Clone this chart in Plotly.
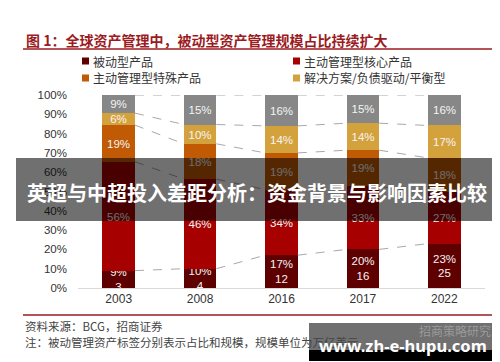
import numpy as np
import plotly.graph_objects as go

years = ["2003", "2008", "2016", "2017", "2022"]
passive = [9, 10, 17, 20, 23]
passive_scale = ["3", "4", "12", "16", "25"]
active_core = [56.4, 46.4, 34, 32.6, 26.6]
active_special = [19, 18.3, 19, 18.8, 17.8]
solutions = [6.2, 10, 14, 14, 16.8]
others = [9.4, 15.3, 16, 14.6, 15.8]

series_names = ["被动型产品", "主动管理型核心产品", "主动管理型特殊产品", "解决方案/负债驱动/平衡型", "其他"]
colors = ["#5e0000", "#a60000", "#c05a04", "#d4a23c", "#878787"]
ytick_vals = list(range(0, 101, 10))
ytick_text = [f"{v}%" for v in ytick_vals]

title_text = "图 1：全球资产管理中，被动型资产管理规模占比持续扩大"
source_text = "资料来源：BCG，招商证券"
note_text = "注：被动管理资产标签分别表示占比和规模，规模单位为万亿美元"
banner_text = "英超与中超投入差距分析：资金背景与影响因素比较"
wm_text = "www.zh-e-hupu.com"
wm_sub = "招商策略研究"

W, H = 500, 362
L, R, T, B = 70, 477, 87, 280


def px_x(p):
    return (p - L) / (R - L)


def px_y(p):
    return (B - p) / (B - T)


CJK = "Noto Sans CJK SC"
LAT = "Liberation Sans, Arial"

fig = go.Figure()
x = np.arange(len(years))
data = [passive, active_core, active_special, solutions, others]
bw = 0.4

# dashed connector lines between cumulative levels
cum = np.cumsum(np.array(data, dtype=float), axis=0)
for lev in cum:
    xs, ys = [], []
    for i in range(len(years) - 1):
        xs += [x[i] + bw / 2, x[i + 1] - bw / 2, None]
        ys += [lev[i], lev[i + 1], None]
    fig.add_trace(go.Scatter(x=xs, y=ys, mode="lines", showlegend=False, hoverinfo="skip",
                             line=dict(color="#a8a8a8", width=1, dash="dash")))

for k, (name, vals, col) in enumerate(zip(series_names, data, colors)):
    if k == 0:
        tt = "%{y:.0f}%<br>%{customdata}"
        cd = passive_scale
    else:
        tt = "%{y:.0f}%"
        cd = None
    fig.add_trace(go.Bar(
        x=x, y=vals, name=name, marker=dict(color=col, line=dict(width=0)), width=bw,
        customdata=cd, texttemplate=tt, textposition="inside", insidetextanchor="middle",
        textangle=0, constraintext="none",
        textfont=dict(family=LAT, size=11.5, color="#f4f4f4"),
        showlegend=False,
    ))

fig.update_layout(
    width=W, height=H, autosize=False,
    margin=dict(l=L, r=W - R, t=T, b=H - B, pad=0, autoexpand=False),
    paper_bgcolor="white", plot_bgcolor="white",
    barmode="stack", bargap=0, showlegend=False,
    font=dict(family=LAT, size=12, color="#333333"),
    xaxis=dict(range=[-0.5, 4.5], tickvals=list(x), ticktext=years, showgrid=False,
               zeroline=False, showline=True, linecolor="#d9d9d9", linewidth=1, ticks="",
               tickfont=dict(family=LAT, size=12, color="#333333"), fixedrange=True),
    yaxis=dict(range=[0, 100], tickvals=ytick_vals, ticktext=ytick_text, showgrid=False,
               zeroline=False, showline=False, ticks="", ticklabelstandoff=10,
               tickfont=dict(family=LAT, size=11.5, color="#333333"), fixedrange=True),
)

shapes = []
annotations = []
# manual legend (2 x 2)
leg_pos = [(74, 53), (285, 53), (74, 70), (285, 70)]
for (lx, ly), name, col in zip(leg_pos, series_names[:4], colors[:4]):
    shapes.append(dict(type="rect", xref="paper", yref="paper", x0=px_x(lx), x1=px_x(lx + 7),
                       y0=px_y(ly - 3.5), y1=px_y(ly + 3.5), fillcolor=col, line=dict(width=0)))
    annotations.append(dict(text=name, x=px_x(lx + 9), y=px_y(ly), xref="paper", yref="paper",
                            xanchor="left", yanchor="middle", showarrow=False,
                            font=dict(family=CJK, size=12, color="#333333")))

# title + rules
annotations.append(dict(text="<b>" + title_text + "</b>", x=px_x(16), y=px_y(32), xref="paper", yref="paper",
                        xanchor="left", yanchor="middle", showarrow=False,
                        font=dict(family=CJK, size=14, color="#9b1b1e")))
shapes.append(dict(type="line", xref="paper", yref="paper", x0=px_x(15), x1=px_x(488), y0=px_y(41), y1=px_y(41),
                   line=dict(color="#9b1b1e", width=1.5)))
shapes.append(dict(type="line", xref="paper", yref="paper", x0=px_x(15), x1=px_x(488), y0=px_y(307), y1=px_y(307),
                   line=dict(color="#9b1b1e", width=1.5)))
annotations.append(dict(text=source_text, x=px_x(15), y=px_y(318), xref="paper", yref="paper",
                        xanchor="left", yanchor="middle", showarrow=False,
                        font=dict(family=CJK, size=11.5, color="#444444")))
annotations.append(dict(text=note_text, x=px_x(15), y=px_y(334), xref="paper", yref="paper",
                        xanchor="left", yanchor="middle", showarrow=False,
                        font=dict(family=CJK, size=11.5, color="#444444")))

# overlay banner
shapes.append(dict(type="rect", xref="paper", yref="paper", x0=px_x(8), x1=px_x(492), y0=px_y(150), y1=px_y(213),
                   fillcolor="rgba(0,0,0,0.56)", line=dict(width=0), layer="above"))
annotations.append(dict(text="<b>" + banner_text + "</b>", x=px_x(249), y=px_y(184), xref="paper", yref="paper",
                        xanchor="center", yanchor="middle", showarrow=False,
                        font=dict(family=CJK, size=20, color="white")))

# watermark box
shapes.append(dict(type="rect", xref="paper", yref="paper", x0=px_x(301), x1=px_x(491), y0=px_y(315), y1=px_y(342),
                   fillcolor="rgba(0,0,0,0.56)", line=dict(width=0), layer="above"))
shapes.append(dict(type="rect", xref="paper", yref="paper", x0=px_x(301), x1=px_x(491), y0=px_y(342), y1=px_y(353),
                   fillcolor="black", line=dict(width=0), layer="above"))
annotations.append(dict(text=wm_sub, x=px_x(485), y=px_y(322), xref="paper", yref="paper",
                        xanchor="right", yanchor="middle", showarrow=False,
                        font=dict(family=CJK, size=12, color="#9a9a9a")))
annotations.append(dict(text="<b>" + wm_text + "</b>", x=px_x(395), y=px_y(337), xref="paper", yref="paper",
                        xanchor="center", yanchor="middle", showarrow=False,
                        font=dict(family="Noto Sans, DejaVu Sans", size=16.5, color="white")))

fig.update_layout(shapes=shapes, annotations=annotations)
fig.write_html("out.html")
